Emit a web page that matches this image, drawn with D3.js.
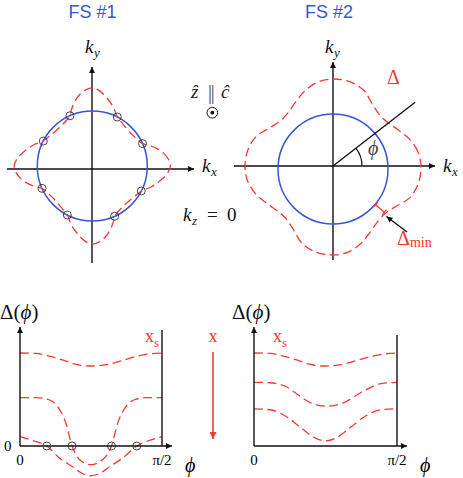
<!DOCTYPE html>
<html lang="en">
<head>
<meta charset="UTF-8">
<title>Gap on two Fermi surfaces</title>
<script src="https://d3js.org/d3.v7.min.js"></script>
<style>
  body { margin: 0; background: #fff; }
  svg { display: block; }
  .math { font-family: "Liberation Serif", "DejaVu Serif", serif; }
  .it { font-style: italic; }
  .title { font-family: "Liberation Sans", Arial, sans-serif; font-size: 18px; fill: #3556d8; text-anchor: middle; }
  .red { fill: #ff3322; }
</style>
</head>
<body>
<div id="chart"></div>
<script>
// ---- data ----
// polar gap curves, one quadrant (deg), radius in units of k_F
var fs1Angles = [0, 5, 10, 15, 20, 24, 30, 35, 40, 45, 50, 55, 63, 70, 77, 85];
var fs1Radii  = [1.42, 1.39, 1.32, 1.22, 1.10, 1.00, 0.95, 0.93, 0.92, 0.92, 0.93, 0.95, 1.00, 1.13, 1.25, 1.38];
var fs1Nodes  = [24, 63];

var fs2Angles = [0, 10, 20, 30, 40, 48, 58, 68, 79];
var fs2Radii  = [1.60, 1.57, 1.48, 1.36, 1.28, 1.27, 1.35, 1.50, 1.58];
var fs2PhiAngle = 37.8;
var fs2MinAngle = -40;
var fs2MinRange = [1.01, 1.22];

// Delta(phi) cuts, phi in degrees
var topPhi = [0, 10, 20, 27, 35, 45, 55, 65, 73, 82, 90];
var topGap = [1.0, 0.995, 0.96, 0.925, 0.88, 0.86, 0.875, 0.92, 0.96, 0.99, 1.0];

var leftMidPhi = [0, 10, 18, 24, 29, 33, 38, 45, 52, 58, 62, 67, 73, 80, 90];
var leftMidGap = [0.52, 0.52, 0.50, 0.42, 0.25, 0, -0.15, -0.20, -0.15, 0, 0.25, 0.42, 0.50, 0.52, 0.52];
var leftLowPhi = [0, 8, 17, 25, 33, 39, 45, 51, 57, 65, 74, 82, 90];
var leftLowGap = [0.10, 0.06, 0, -0.13, -0.22, -0.29, -0.32, -0.29, -0.22, -0.13, 0, 0.06, 0.10];
var leftNodes  = [17, 33, 58, 74];

var rightMidPhi = [0, 10, 20, 27, 35, 40, 45, 50, 57, 63, 70, 80, 90];
var rightMidGap = [0.685, 0.68, 0.64, 0.56, 0.47, 0.44, 0.43, 0.435, 0.47, 0.53, 0.60, 0.67, 0.685];
var rightLowPhi = [0, 10, 20, 30, 38, 45, 52, 60, 70, 80, 90];
var rightLowGap = [0.40, 0.39, 0.32, 0.19, 0.09, 0.055, 0.09, 0.19, 0.32, 0.39, 0.40];

var RED = "#f43a30", BLUE = "#3556d8";

var svg = d3.select("#chart").append("svg")
    .attr("width", 463).attr("height", 478);

var defs = svg.append("defs");
function arrowMarker(id, color, len, wid) {
  defs.append("marker")
      .attr("id", id)
      .attr("viewBox", "0 0 10 10")
      .attr("refX", 10).attr("refY", 5)
      .attr("markerUnits", "userSpaceOnUse")
      .attr("markerWidth", len).attr("markerHeight", wid)
      .attr("orient", "auto")
    .append("path")
      .attr("d", "M0,0 L10,5 L0,10 z")
      .attr("fill", color);
}
arrowMarker("ahBlack", "#111", 9, 6);
arrowMarker("ahRed", RED, 11, 7);

function line(g, x1, y1, x2, y2, color, w, marker) {
  var l = g.append("line")
      .attr("x1", x1).attr("y1", y1).attr("x2", x2).attr("y2", y2)
      .attr("stroke", color).attr("stroke-width", w);
  if (marker) l.attr("marker-end", "url(#" + marker + ")");
  return l;
}

// k with subscript
function kLabel(g, x, y, sub, color) {
  var t = g.append("text").attr("class", "math it")
      .attr("x", x).attr("y", y).attr("fill", color || "#111")
      .style("font-size", "19px");
  t.append("tspan").text("k");
  t.append("tspan").attr("dy", 4).attr("dx", 0.5).style("font-size", "13px").text(sub);
  return t;
}

// ---- polar panels ----
var angle = d3.scaleLinear().domain([0, 360]).range([Math.PI / 2, Math.PI / 2 - 2 * Math.PI]);
var radius = d3.scaleLinear().domain([0, 1]).range([0, 55]);

function fullCurve(angles, radii) {
  var pts = [];
  for (var q = 0; q < 4; q++) {
    angles.forEach(function(a, i) { pts.push({a: a + 90 * q, r: radii[i]}); });
  }
  return pts;
}

var radial = d3.lineRadial()
    .angle(function(d) { return angle(d.a); })
    .radius(function(d) { return radius(d.r); })
    .curve(d3.curveCatmullRomClosed);

function polarPanel(cfg) {
  var g = svg.append("g");
  // axes
  line(g, cfg.ax[0], cfg.oy, cfg.ax[1], cfg.oy, "#111", 1.4, "ahBlack");
  line(g, cfg.ox, cfg.ay[0], cfg.ox, cfg.ay[1], "#111", 1.4, "ahBlack");
  // Fermi circle
  g.append("circle")
      .attr("cx", cfg.cx).attr("cy", cfg.cy).attr("r", radius(1))
      .attr("fill", "none").attr("stroke", BLUE).attr("stroke-width", 1.5);
  // gap curve
  g.append("path")
      .datum(fullCurve(cfg.angles, cfg.radii))
      .attr("transform", "translate(" + cfg.cx + "," + cfg.gy + ")")
      .attr("d", radial)
      .attr("fill", "none").attr("stroke", RED)
      .attr("stroke-width", 1.3).attr("stroke-dasharray", "9,4.5");
  return g;
}

var p1 = polarPanel({cx: 92.3, cy: 166, gy: 166, ox: 92, oy: 169,
  ax: [7, 194], ay: [263, 67], angles: fs1Angles, radii: fs1Radii});

// nodes on FS #1
var nodePts = [];
for (var q = 0; q < 4; q++) fs1Nodes.forEach(function(a) { nodePts.push(a + 90 * q); });
p1.selectAll("circle.node").data(nodePts).enter().append("circle")
    .attr("class", "node")
    .attr("transform", "translate(92.3,166)")
    .attr("cx", function(d) { return d3.pointRadial(angle(d), radius(1))[0]; })
    .attr("cy", function(d) { return d3.pointRadial(angle(d), radius(1))[1]; })
    .attr("r", 4).attr("fill", "none").attr("stroke", "#333").attr("stroke-width", 0.9);

var p2 = polarPanel({cx: 333, cy: 169, gy: 167, ox: 333, oy: 166,
  ax: [234, 435], ay: [260, 62], angles: fs2Angles, radii: fs2Radii});

// phi ray and arc
var rayEnd = d3.pointRadial(angle(fs2PhiAngle), 104);
line(p2, 333, 166, 333 + rayEnd[0], 166 + rayEnd[1], "#111", 1.4);
p2.append("path")
    .attr("transform", "translate(333,166)")
    .attr("d", d3.arc().innerRadius(29).outerRadius(29)
        .startAngle(angle(fs2PhiAngle)).endAngle(angle(0)))
    .attr("fill", "none").attr("stroke", "#111").attr("stroke-width", 1.2);
p2.append("text").attr("class", "math it")
    .attr("x", 368).attr("y", 155).style("font-size", "20px").attr("fill", "#444")
    .text("\u03D5");

// Delta_min bracket
var mA = d3.pointRadial(angle(fs2MinAngle), radius(fs2MinRange[0]));
var mB = d3.pointRadial(angle(fs2MinAngle), radius(fs2MinRange[1]));
var ux = (mB[0] - mA[0]), uy = (mB[1] - mA[1]), ul = Math.hypot(ux, uy);
var px = -uy / ul * 3.2, py = ux / ul * 3.2;
var bg = p2.append("g").attr("transform", "translate(333,169)");
line(bg, mA[0], mA[1], mB[0], mB[1], RED, 1.3);
line(bg, mA[0] - px, mA[1] - py, mA[0] + px, mA[1] + py, RED, 1.3);
line(bg, mB[0] - px, mB[1] - py, mB[0] + px, mB[1] + py, RED, 1.3);
line(p2, 407, 232, 386.5, 216.5, "#111", 1.4, "ahBlack");

var dm = p2.append("text").attr("class", "math red").attr("x", 397).attr("y", 245)
    .style("font-size", "20px");
dm.append("tspan").text("\u0394");
dm.append("tspan").attr("dy", 2).style("font-size", "14px").text("min");
p2.append("text").attr("class", "math red").attr("x", 387).attr("y", 84)
    .style("font-size", "20px").text("\u0394");

// titles and axis labels
svg.append("text").attr("class", "title").attr("x", 92.5).attr("y", 18).text("FS #1");
svg.append("text").attr("class", "title").attr("x", 329).attr("y", 18).text("FS #2");
kLabel(svg, 85, 53, "y");
kLabel(svg, 202, 172, "x");
kLabel(svg, 325, 53, "y");
kLabel(svg, 443, 172, "x");

// z || c and k_z = 0
var zc = svg.append("g").attr("class", "math").style("font-size", "19px").attr("fill", "#222");
zc.append("text").attr("class", "math it").attr("x", 191).attr("y", 98).text("\u1E91");
zc.append("text").attr("class", "math").attr("x", 207.8).attr("y", 99)
    .style("font-size", "22px").style("letter-spacing", "-1.8px").attr("fill", "#555").text("||");
zc.append("text").attr("class", "math it").attr("x", 221).attr("y", 98).text("\u0109");
svg.append("circle").attr("cx", 212.3).attr("cy", 112.7).attr("r", 5.3)
    .attr("fill", "none").attr("stroke", "#111").attr("stroke-width", 1);
svg.append("circle").attr("cx", 212.3).attr("cy", 112.7).attr("r", 1.9).attr("fill", "#111");

kLabel(svg, 183, 221, "z");
svg.append("text").attr("class", "math").attr("x", 207).attr("y", 221)
    .style("font-size", "19px").attr("fill", "#111").text("=");
svg.append("text").attr("class", "math").attr("x", 227).attr("y", 221)
    .style("font-size", "19px").attr("fill", "#111").text("0");

// ---- Delta(phi) panels ----
var gapY = d3.scaleLinear().domain([0, 1]).range([446, 353]);

function cutPanel(cfg) {
  var g = svg.append("g");
  var x = d3.scaleLinear().domain([0, 90]).range(cfg.range);
  var ln = d3.line()
      .x(function(d) { return x(d[0]); })
      .y(function(d) { return gapY(d[1]); })
      .curve(d3.curveMonotoneX);

  cfg.curves.forEach(function(c) {
    g.append("path")
        .datum(d3.zip(c[0], c[1]))
        .attr("d", ln)
        .attr("fill", "none").attr("stroke", RED)
        .attr("stroke-width", 1.3).attr("stroke-dasharray", "9,4.5");
  });

  line(g, x(0), gapY(0), x(90) + 10, gapY(0), "#111", 1.4, "ahBlack");
  line(g, x(0), gapY(0), x(0), 327, "#111", 1.4, "ahBlack");
  line(g, x(90), gapY(0), x(90), cfg.rightTop, "#111", 1.4);

  var lab = g.append("text").attr("class", "math").attr("x", cfg.labelX).attr("y", 319)
      .style("font-size", "21px").attr("fill", "#111");
  lab.append("tspan").text("\u0394(");
  lab.append("tspan").attr("class", "it").text("\u03D5");
  lab.append("tspan").text(")");

  g.append("text").attr("class", "math").attr("x", x(0)).attr("y", 465)
      .attr("text-anchor", "middle").style("font-size", "15px").text("0");
  g.append("text").attr("class", "math").attr("x", x(90)).attr("y", 465)
      .attr("text-anchor", "middle").style("font-size", "15px").text("\u03C0/2");
  g.append("text").attr("class", "math it").attr("x", x(90) + 23).attr("y", 472)
      .style("font-size", "20px").text("\u03D5");

  var xs = g.append("text").attr("class", "math red").attr("x", cfg.xsX).attr("y", 342)
      .style("font-size", "18px");
  xs.append("tspan").text("x");
  xs.append("tspan").attr("dy", 5).style("font-size", "13px").text("s");
  return {g: g, x: x};
}

var left = cutPanel({range: [20, 162], rightTop: 330, labelX: 0, xsX: 145,
  curves: [[topPhi, topGap], [leftMidPhi, leftMidGap], [leftLowPhi, leftLowGap]]});
left.g.append("text").attr("class", "math").attr("x", 4).attr("y", 451)
    .style("font-size", "15px").text("0");
left.g.selectAll("circle.node").data(leftNodes).enter().append("circle")
    .attr("cx", function(d) { return left.x(d); })
    .attr("cy", gapY(0))
    .attr("r", 4).attr("fill", "none").attr("stroke", "#333").attr("stroke-width", 0.9);

var right = cutPanel({range: [254, 397], rightTop: 335, labelX: 232, xsX: 273,
  curves: [[topPhi, topGap], [rightMidPhi, rightMidGap], [rightLowPhi, rightLowGap]]});

// doping arrow
svg.append("text").attr("class", "math red").attr("x", 213).attr("y", 342)
    .attr("text-anchor", "middle").style("font-size", "18px").text("x");
line(svg, 213, 352, 213, 439, RED, 1.6, "ahRed");
</script>
</body>
</html>
